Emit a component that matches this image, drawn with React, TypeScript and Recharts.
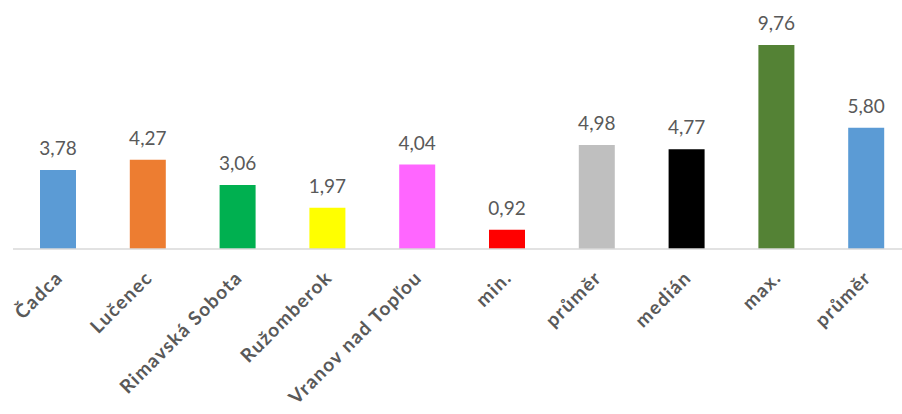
import React from "react";
import { BarChart, Bar, Cell, XAxis, YAxis, LabelList } from "recharts";

const categories = [
  "Čadca",
  "Lučenec",
  "Rimavská Sobota",
  "Ružomberok",
  "Vranov nad Topľou",
  "min.",
  "průměr",
  "medián",
  "max.",
  "průměr ",
];
const values = [3.78, 4.27, 3.06, 1.97, 4.04, 0.92, 4.98, 4.77, 9.76, 5.8];
const colors = [
  "#5B9BD5",
  "#ED7D31",
  "#00B050",
  "#FFFF00",
  "#FF66FF",
  "#FF0000",
  "#BFBFBF",
  "#000000",
  "#548235",
  "#5B9BD5",
];

const data = categories.map((name, i) => ({ name, value: values[i] }));

const FONT = "Lato, 'Liberation Sans', sans-serif";
const TEXT = "#595959";

function RotatedTick(props: any) {
  const { x, y, payload } = props;
  const ax = x + 6;
  const ay = y + 22;
  return (
    <text
      x={ax}
      y={ay}
      transform={`rotate(-45, ${ax}, ${ay})`}
      textAnchor="end"
      fill={TEXT}
      fontSize={19}
      fontWeight="bold"
      fontFamily={FONT}
      letterSpacing={1.3}
    >
      {payload.value.trim()}
    </text>
  );
}

export default function App() {
  return (
    <div
      style={{
        position: "absolute",
        left: 0,
        top: 0,
        width: 902,
        height: 414,
        overflow: "hidden",
        background: "#fff",
      }}
    >
      <BarChart
        width={911}
        height={414}
        data={data}
        margin={{ top: 40, right: 0, bottom: 0, left: 13 }}
      >
        <XAxis
          dataKey="name"
          interval={0}
          height={165}
          tickLine={false}
          axisLine={{ stroke: "#D9D9D9", strokeWidth: 1.5 }}
          tick={<RotatedTick />}
        />
        <YAxis hide domain={[0, 10]} />
        <Bar dataKey="value" barSize={36} isAnimationActive={false}>
          {data.map((d, i) => (
            <Cell key={d.name + i} fill={colors[i]} />
          ))}
          <LabelList
            dataKey="value"
            position="top"
            offset={15}
            formatter={(v: any) => Number(v).toFixed(2).replace(".", ",")}
            fill={TEXT}
            fontSize={19}
            fontFamily={FONT}
          />
        </Bar>
      </BarChart>
    </div>
  );
}
